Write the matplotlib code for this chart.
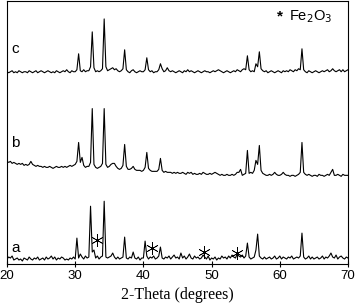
import numpy as np
import matplotlib
matplotlib.use("Agg")
import matplotlib.pyplot as plt

# 2-theta grid, 0.25 deg steps
theta = np.arange(0, 201) * 0.25 + 20.0

# intensities above each pattern's own baseline (arbitrary units)
pattern_c = [
    1, 0, 1, 2, 0, 1, 0, 2, 1, 0, 1, 1, 0, 2, 1, 0, 1, 2, 0, 1,
    2, 1, 0, 1, 2, 1, 0, 1, 0, 2, 1, 0, 1, 2, 1, 3, 1, 0, 2, 1,
    1, 3, 19, 2, 1, 3, 1, 2, 2, 6, 41, 5, 1, 2, 1, 2, 4, 54, 6, 2,
    3, 4, 5, 3, 4, 2, 1, 2, 4, 23, 3, 1, 0, 2, 3, 1, 0, 1, 2, 1,
    1, 3, 15, 3, 1, 2, 0, 1, 1, 3, 9, 4, 1, 2, 5, 2, 1, 2, 1, 0,
    1, 2, 1, 0, 2, 1, 3, 1, 2, 1, 0, 1, 2, 1, 0, 1, 2, 1, 1, 0,
    1, 2, 1, 2, 3, 2, 1, 0, 1, 2, 1, 0, 1, 2, 1, 3, 2, 1, 3, 4,
    3, 17, 3, 1, 2, 1, 9, 6, 21, 4, 2, 1, 2, 0, 1, 2, 1, 0, 1, 2,
    1, 0, 2, 1, 2, 1, 3, 2, 1, 3, 2, 4, 3, 24, 3, 1, 0, 2, 1, 0,
    1, 2, 1, 0, 1, 2, 1, 2, 3, 1, 2, 4, 2, 1, 2, 3, 1, 3, 1, 2, 3,
]
pattern_b = [
    15, 14, 15, 13, 14, 13, 12, 13, 12, 13, 11, 12, 11, 12, 15, 12, 11, 10, 11, 10,
    10, 9, 10, 9, 9, 10, 9, 8, 9, 10, 9, 9, 10, 9, 10, 9, 10, 11, 10, 11,
    12, 15, 34, 14, 19, 11, 9, 10, 10, 14, 68, 12, 9, 8, 9, 10, 13, 68, 12, 9,
    10, 12, 13, 13, 10, 8, 7, 8, 11, 32, 10, 7, 7, 8, 10, 7, 6, 6, 6, 5,
    6, 9, 24, 8, 6, 5, 5, 5, 5, 7, 18, 6, 4, 5, 4, 4, 4, 3, 4, 3,
    4, 3, 3, 4, 3, 2, 4, 3, 4, 2, 3, 2, 2, 3, 2, 4, 3, 2, 2, 3,
    2, 3, 4, 3, 2, 1, 2, 1, 1, 2, 1, 1, 2, 1, 2, 4, 4, 7, 1, 2,
    3, 26, 3, 4, 3, 6, 16, 12, 31, 6, 3, 2, 1, 1, 2, 1, 2, 4, 2, 1,
    1, 2, 4, 2, 1, 1, 0, 1, 1, 0, 1, 2, 4, 34, 4, 2, 1, 2, 1, 0,
    1, 1, 0, 2, 1, 1, 0, 1, 2, 1, 4, 7, 1, 1, 2, 1, 0, 2, 1, 1, 1,
]
pattern_a = [
    3, 5, 4, 6, 2, 3, 4, 2, 3, 1, 4, 3, 2, 5, 3, 2, 4, 3, 5, 2,
    3, 4, 2, 5, 3, 4, 6, 3, 5, 2, 4, 3, 5, 4, 2, 3, 2, 4, 3, 5,
    3, 24, 4, 8, 5, 3, 6, 4, 5, 56, 10, 12, 4, 6, 3, 5, 6, 61, 5, 4,
    5, 6, 9, 5, 3, 5, 3, 4, 5, 25, 4, 3, 5, 4, 10, 4, 3, 5, 2, 4,
    4, 21, 6, 3, 5, 4, 6, 3, 4, 6, 15, 4, 3, 5, 4, 6, 3, 5, 7, 4,
    5, 3, 9, 4, 6, 3, 5, 8, 4, 3, 6, 4, 5, 3, 4, 7, 5, 3, 6, 2,
    4, 3, 5, 2, 4, 3, 6, 4, 5, 3, 6, 4, 7, 5, 4, 8, 6, 5, 7, 4,
    6, 19, 5, 3, 4, 5, 12, 28, 6, 4, 3, 5, 3, 4, 5, 3, 4, 6, 3, 4,
    6, 3, 5, 4, 3, 5, 4, 6, 3, 4, 5, 4, 6, 29, 5, 3, 4, 6, 3, 5,
    3, 4, 5, 3, 4, 6, 3, 5, 4, 6, 9, 5, 4, 7, 3, 5, 6, 4, 3, 5, 4,
]

# vertical stacking offsets
offsets = {"a": 2, "b": 88, "c": 192}
label_y = {"a": 16, "b": 121, "c": 216}

# Fe2O3 reflections marked on pattern a
fe2o3_theta = [33.2, 41.3, 48.9, 53.7]
fe2o3_y = [24, 16, 12, 11]

fig = plt.figure(figsize=(3.55, 3.06), dpi=100)
ax = fig.add_axes([7 / 355, 42 / 306, 341 / 355, 263 / 306])

for name, data in [("a", pattern_a), ("b", pattern_b), ("c", pattern_c)]:
    ax.plot(theta, np.array(data) + offsets[name], color="black", lw=0.8)
    ax.text(21.2, label_y[name], name, fontsize=11, family="Liberation Sans",
            ha="center", va="center")

ax.plot(fe2o3_theta, fe2o3_y, linestyle="none", marker=(6, 2, 0),
        markersize=9, markeredgewidth=0.5, color="black")

ax.text(60.0, 248, "*", fontsize=11, family="Liberation Sans", ha="center", va="center",
        fontweight="bold")
ax.text(61.4, 248, "Fe$_2$O$_3$", fontsize=10.5, family="Liberation Sans",
        ha="left", va="center")

ax.set_xlim(20, 70)
ax.set_ylim(0, 264)
ax.set_xticks([20, 30, 40, 50, 60, 70])
ax.set_yticks([])
ax.tick_params(axis="x", direction="inout", length=4, width=0.8, labelsize=9.5, pad=2)
for lbl in ax.get_xticklabels():
    lbl.set_family("Liberation Sans")
for s in ax.spines.values():
    s.set_linewidth(0.8)

ax.set_xlabel("2-Theta (degrees)", family="Liberation Serif", fontsize=11.5, labelpad=4)

fig.savefig("out.png", dpi=100)
